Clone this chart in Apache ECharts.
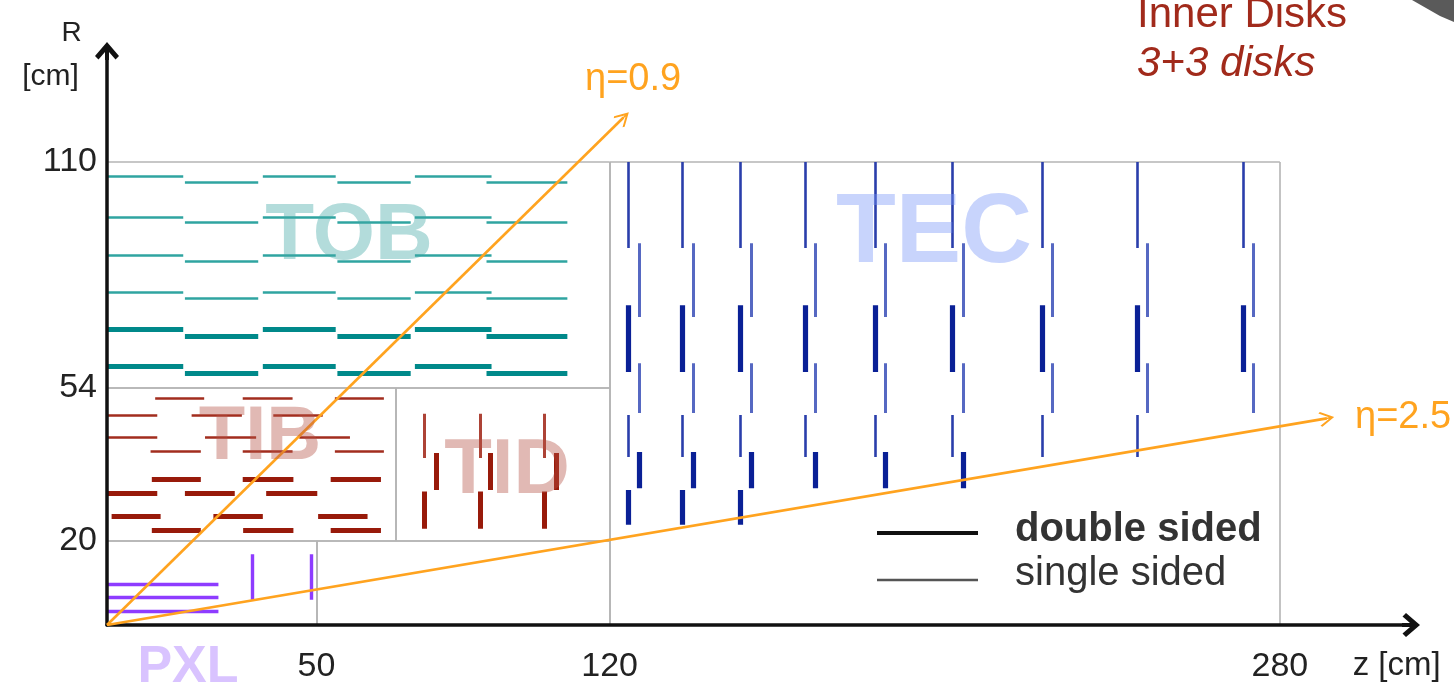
<!DOCTYPE html>
<html>
<head>
<meta charset="utf-8">
<title>CMS tracker layout</title>
<script src="https://cdn.jsdelivr.net/npm/echarts@6/dist/echarts.min.js"></script>
<style>
  html, body { margin: 0; padding: 0; background: #fff; }
  #chart { width: 1454px; height: 688px; }
</style>
</head>
<body>
<div id="chart"></div>
<script>
// axis ticks (the 54 label sits on the TIB/TOB boundary as drawn)
const zTicks = [50, 120, 280]
const rTicks = [20, 56.3, 110]
const rTickLabels = ['20', '54', '110']

// sub-detector outlines: TOB, TIB, TID, TEC, PXL, gap below TID
const boxZ0 = [0, 0, 69, 120, 0, 50]
const boxR0 = [56.3, 20, 20, 0, 0, 0]
const boxZ1 = [120, 69, 120, 280, 50, 120]
const boxR1 = [110, 56.3, 56.3, 110, 20, 20]

// TOB: 6 layers, 6 staggered modules per layer
const tobModStart = [0, 18.6, 37.2, 55.0, 73.5, 90.6]
const tobModEnd = [18.2, 36.1, 54.6, 72.5, 91.8, 109.9]
const tobRHigh = [106.7, 97.0, 87.9, 79.0, 70.3, 61.4]
const tobRLow = [105.1, 95.6, 86.5, 77.6, 68.7, 59.9]
const tobDouble = [false, false, false, false, true, true]

// TIB: 8 rows of 3 modules
const tibR = [54.0, 49.9, 44.5, 41.2, 34.6, 31.4, 25.9, 22.6]
const tibDouble = [false, false, false, false, true, true, true, true]
const tibModStart = [
  [11.5, 32.4, 54.4], [0, 20.2, 39.7], [0, 23.4, 45.9], [10.4, 32.4, 54.4],
  [10.7, 32.4, 53.4], [0.1, 18.6, 38.0], [1.1, 25.4, 50.4], [10.7, 32.5, 53.4]
]
const tibModEnd = [
  [23.2, 44.3, 66.1], [12.0, 32.2, 51.5], [12.0, 35.6, 58.0], [22.4, 44.3, 66.1],
  [22.4, 44.5, 65.4], [12.0, 30.5, 50.2], [12.8, 37.2, 62.2], [22.4, 44.5, 65.4]
]

// TID: 3 disks, 3 rings each
const tidFrontZ = [75.8, 89.2, 104.5]
const tidBackZ = [78.7, 91.6, 107.2]
const tidRingSide = ['front', 'back', 'front']
const tidRingR0 = [39.7, 32.1, 22.9]
const tidRingR1 = [50.2, 40.9, 31.7]
const tidRingDouble = [false, true, true]

// TEC: 9 disks, rings listed from outer to inner
const tecFrontZ = [124.4, 137.3, 151.1, 166.6, 183.3, 201.9, 223.2, 245.9, 271.2]
const tecBackZ = [127.0, 139.9, 153.7, 169.0, 185.9, 204.5, 225.6, 248.3, 273.7]
const tecRingCount = [7, 7, 7, 6, 6, 6, 5, 5, 4]
const tecRingSide = ['front', 'back', 'front', 'back', 'front', 'back', 'front']
const tecRingR0 = [89.6, 73.2, 60.1, 50.4, 39.9, 32.5, 23.8]
const tecRingR1 = [110, 90.7, 76.0, 62.2, 49.9, 41.1, 32.1]
const tecRingDouble = [false, false, true, false, false, true, true]

// pixel detector
const pxlBarrelR = [9.8, 6.6, 3.2]
const pxlBarrelZ = 26.6
const pxlDiskZ = [34.7, 48.8]
const pxlDiskR0 = 6.0
const pxlDiskR1 = 16.8

// pseudorapidity lines
const etaNames = ['η=0.9', 'η=2.5']
const etaEndZ = [123.3, 291.2]
const etaEndR = [120.6, 49.1]

const FONT = 'Liberation Sans, Arial, sans-serif'
const axisArrow = 'path://M12,0 L24,14 L20.5,17.5 L14,10 L14,18 L10,18 L10,10 L3.5,17.5 L0,14 Z'
const etaArrow = 'path://M12,0 L24,15 L22,17 L13.2,6 L13.2,17 L10.8,17 L10.8,6 L2,17 L0,15 Z'

const seg = (z0, r0, z1, r1) => ({ coords: [[z0, r0], [z1, r1]] })

function linesSeries (name, data, color, width, z) {
  return {
    type: 'lines',
    name,
    coordinateSystem: 'cartesian2d',
    polyline: false,
    silent: true,
    z,
    data,
    lineStyle: { color, width, opacity: 1, cap: 'butt' }
  }
}

// outlines
const boxData = []
for (let i = 0; i < boxZ0.length; i++) {
  boxData.push(seg(boxZ0[i], boxR0[i], boxZ1[i], boxR0[i]))
  boxData.push(seg(boxZ0[i], boxR1[i], boxZ1[i], boxR1[i]))
  boxData.push(seg(boxZ0[i], boxR0[i], boxZ0[i], boxR1[i]))
  boxData.push(seg(boxZ1[i], boxR0[i], boxZ1[i], boxR1[i]))
}

// TOB
const tobThin = []
const tobThick = []
tobRHigh.forEach((rh, l) => {
  tobModStart.forEach((zs, m) => {
    const r = m % 2 === 0 ? rh : tobRLow[l]
    ;(tobDouble[l] ? tobThick : tobThin).push(seg(zs, r, tobModEnd[m], r))
  })
})

// TIB
const tibThin = []
const tibThick = []
tibR.forEach((r, row) => {
  tibModStart[row].forEach((zs, m) => {
    ;(tibDouble[row] ? tibThick : tibThin).push(seg(zs, r, tibModEnd[row][m], r))
  })
})

// TID
const tidThin = []
const tidThick = []
tidFrontZ.forEach((zf, d) => {
  tidRingSide.forEach((side, k) => {
    const z = side === 'front' ? zf : tidBackZ[d]
    ;(tidRingDouble[k] ? tidThick : tidThin).push(seg(z, tidRingR0[k], z, tidRingR1[k]))
  })
})

// TEC
const tecThinFront = []
const tecThinBack = []
const tecThick = []
tecFrontZ.forEach((zf, d) => {
  for (let k = 0; k < tecRingCount[d]; k++) {
    const front = tecRingSide[k] === 'front'
    const z = front ? zf : tecBackZ[d]
    const s = seg(z, tecRingR0[k], z, tecRingR1[k])
    if (tecRingDouble[k]) tecThick.push(s)
    else if (front) tecThinFront.push(s)
    else tecThinBack.push(s)
  }
})

// PXL
const pxlData = []
pxlBarrelR.forEach(r => pxlData.push(seg(0, r, pxlBarrelZ, r)))
pxlDiskZ.forEach(z => pxlData.push(seg(z, pxlDiskR0, z, pxlDiskR1)))

// eta
const etaData = etaEndZ.map((z, i) => ({ name: etaNames[i], coords: [[0, 0], [z, etaEndR[i]]] }))

function text (str, x, y, size, fill, opts = {}) {
  return {
    type: 'text',
    z: 100,
    silent: true,
    style: {
      text: str,
      x,
      y,
      fill,
      font: (opts.style || '') + ' ' + (opts.weight || 'normal') + ' ' + size + 'px ' + FONT,
      align: opts.align || 'left',
      verticalAlign: 'middle',
      textAlign: opts.align || 'left',
      textVerticalAlign: 'middle'
    }
  }
}

const chart = echarts.init(document.getElementById('chart'))

chart.setOption({
  animation: false,
  backgroundColor: '#fff',
  grid: { left: 107, right: 43, top: 51, bottom: 63 },
  xAxis: {
    type: 'value',
    z: 10,
    min: 0,
    max: 311.3,
    axisLine: {
      show: true,
      symbol: ['none', axisArrow],
      symbolSize: [24, 18],
      lineStyle: { color: '#111', width: 3.5 }
    },
    axisTick: { show: false },
    splitLine: { show: false },
    axisLabel: {
      customValues: zTicks,
      color: '#222',
      fontSize: 34,
      fontFamily: FONT,
      margin: 25
    }
  },
  yAxis: {
    type: 'value',
    z: 10,
    min: 0,
    max: 136.4,
    axisLine: {
      show: true,
      symbol: ['none', axisArrow],
      symbolSize: [24, 18],
      lineStyle: { color: '#111', width: 3.5 }
    },
    axisTick: { show: false },
    splitLine: { show: false },
    axisLabel: {
      customValues: rTicks,
      color: '#222',
      fontSize: 34,
      fontFamily: FONT,
      margin: 10,
      formatter: v => {
        const i = rTicks.findIndex(t => Math.abs(t - v) < 0.01)
        return i >= 0 ? rTickLabels[i] : ''
      }
    }
  },
  series: [
    linesSeries('outlines', boxData, '#b4b4b4', 1.6, 1),
    linesSeries('TOB single', tobThin, '#2fa4a1', 2.6, 3),
    linesSeries('TOB double', tobThick, '#00898a', 4.8, 3),
    linesSeries('TIB single', tibThin, '#a22d1e', 2.6, 3),
    linesSeries('TIB double', tibThick, '#981a0a', 4.8, 3),
    linesSeries('TID single', tidThin, '#ad4336', 3, 3),
    linesSeries('TID double', tidThick, '#981a0a', 5, 3),
    linesSeries('TEC single front', tecThinFront, '#2a3eab', 2.6, 3),
    linesSeries('TEC single back', tecThinBack, '#5668c2', 3, 3),
    linesSeries('TEC double', tecThick, '#0a2096', 5.2, 3),
    linesSeries('PXL', pxlData, '#8e3cff', 3.4, 3),
    Object.assign(linesSeries('eta', etaData, '#ffa31f', 2.6, 12), {
      symbol: ['none', etaArrow],
      symbolSize: 15
    })
  ],
  graphic: [
    text('R', 71.5, 33.5, 28, '#222', { align: 'center' }),
    text('[cm]', 50.5, 76.5, 30, '#222', { align: 'center' }),
    text('z [cm]', 1396.7, 666, 33, '#222', { align: 'center' }),
    text('η=0.9', 585, 80, 38, '#ffa31f'),
    text('η=2.5', 1355, 418, 38, '#ffa31f'),
    text('Inner Disks', 1137, 15, 42, '#a12a1b'),
    text('3+3 disks', 1137, 64, 42, '#a12a1b', { style: 'italic' }),
    text('double sided', 1015, 530, 40, '#333', { weight: 'bold' }),
    text('single sided', 1015, 574, 40, '#333'),
    text('TOB', 349, 237, 80, 'rgba(65,167,165,0.4)', { weight: 'bold', align: 'center' }),
    text('TIB', 260, 438, 76, 'rgba(180,80,68,0.4)', { weight: 'bold', align: 'center' }),
    text('TID', 507, 471, 78, 'rgba(180,80,68,0.4)', { weight: 'bold', align: 'center' }),
    text('TEC', 934, 235, 98, 'rgba(118,148,248,0.4)', { weight: 'bold', align: 'center' }),
    text('PXL', 188, 668, 52, 'rgba(160,105,255,0.4)', { weight: 'bold', align: 'center' }),
    {
      type: 'line',
      z: 100,
      silent: true,
      shape: { x1: 877, y1: 533, x2: 978, y2: 533 },
      style: { stroke: '#111', lineWidth: 4 }
    },
    {
      type: 'line',
      z: 100,
      silent: true,
      shape: { x1: 877, y1: 580, x2: 978, y2: 580 },
      style: { stroke: '#555', lineWidth: 2.4 }
    },
    {
      type: 'polygon',
      z: 100,
      silent: true,
      shape: { points: [[1412, 0], [1454, 0], [1454, 22], [1440, 16]] },
      style: { fill: '#5a5a5a' }
    }
  ]
})
</script>
</body>
</html>
